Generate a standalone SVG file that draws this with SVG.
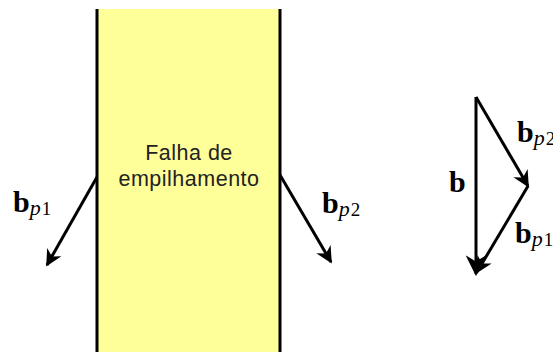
<svg xmlns="http://www.w3.org/2000/svg" width="553" height="352" viewBox="0 0 553 352">
<defs>
<marker id="ah" viewBox="0 0 10 10" refX="9" refY="5" markerWidth="5.5" markerHeight="5.5" orient="auto" markerUnits="strokeWidth">
<path d="M0,0 L10,5 L0,10 L3,5 Z" fill="#000"/>
</marker>
<marker id="ahb" viewBox="0 0 10 10" refX="9" refY="5" markerWidth="7" markerHeight="7" orient="auto" markerUnits="strokeWidth">
<path d="M0,0 L10,5 L0,10 L3,5 Z" fill="#000"/>
</marker>
</defs>
<style>
.vec{stroke:#000;stroke-width:3;fill:none}
.b{font-family:"Liberation Serif",serif;font-weight:bold;font-size:30px;fill:#000}
.s{font-family:"Liberation Serif",serif;font-size:22px;fill:#000}
.d{font-family:"Liberation Serif",serif;font-size:19px;fill:#000}
.p{font-style:italic}
.t{font-family:"Liberation Sans",Arial,sans-serif;font-size:21.5px;letter-spacing:0.5px;fill:#222;text-anchor:middle}
</style>
<rect width="553" height="352" fill="#fff"/>
<g id="fault">
<rect x="97" y="9" width="183" height="345" fill="#ffff99"/>
<line x1="97" y1="9" x2="97" y2="352" stroke="#000" stroke-width="3"/>
<line x1="280" y1="9" x2="280" y2="352" stroke="#000" stroke-width="3"/>
<text class="t" x="189" y="160">Falha de</text>
<text class="t" x="189" y="186">empilhamento</text>
</g>
<g id="connectors">
<line class="vec" x1="97" y1="177" x2="47" y2="265" marker-end="url(#ah)"/>
<line class="vec" x1="280" y1="175" x2="331" y2="262" marker-end="url(#ah)"/>
<line class="vec" x1="476" y1="97" x2="528" y2="186" marker-end="url(#ah)"/>
<line class="vec" x1="528" y1="186" x2="477" y2="272" marker-end="url(#ah)"/>
<line class="vec" x1="476" y1="97" x2="476" y2="274" marker-end="url(#ahb)"/>
</g>
<g id="labels">
<text x="13" y="212"><tspan class="b">b</tspan><tspan class="s p" dy="3">p</tspan><tspan class="d" dx="1">1</tspan></text>
<text x="322" y="213"><tspan class="b">b</tspan><tspan class="s p" dy="3">p</tspan><tspan class="d" dx="1">2</tspan></text>
<text x="449" y="192"><tspan class="b">b</tspan></text>
<text x="517" y="142"><tspan class="b">b</tspan><tspan class="s p" dy="3">p</tspan><tspan class="d" dx="1">2</tspan></text>
<text x="515" y="243"><tspan class="b">b</tspan><tspan class="s p" dy="3">p</tspan><tspan class="d" dx="1">1</tspan></text>
</g>
</svg>
